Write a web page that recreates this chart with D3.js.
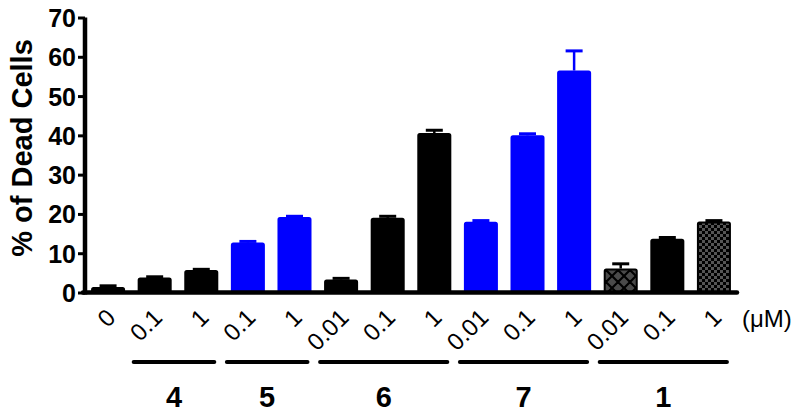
<!DOCTYPE html>
<html><head><meta charset="utf-8">
<script src="https://cdn.jsdelivr.net/npm/d3@7"></script>
<style>
html,body{margin:0;padding:0;background:#fff;}
svg{display:block;font-family:Arial,"Liberation Sans",Helvetica,sans-serif;}
</style></head>
<body>
<svg id="chart" width="800" height="418"></svg>
<script>
// ---- data ----
const concLabels = ["0","0.1","1","0.1","1","0.01","0.1","1","0.01","0.1","1","0.01","0.1","1"];
const barCompound = ["ctrl","4","4","5","5","6","6","6","7","7","7","1","1","1"];
const values = [1.4,3.8,5.7,12.7,19.2,3.3,19.0,40.6,18.0,40.0,56.5,6.1,13.7,18.1];
const errors = [0.3,0.2,0.2,0.3,0.2,0.3,0.4,0.7,0.3,0.4,5.0,1.2,0.3,0.2];
const groupLabels = ["4","5","6","7","1"];
const yTicks = [0,10,20,30,40,50,60,70];
const unitLabel = "(\u03BCM)";
const yTitle = "% of Dead Cells";

// ---- layout ----
const svg = d3.select("#chart");
const x0 = 85, x1 = 737, yBase = 292.5, yTop = 17.5;
const idx = d3.range(values.length);
const x = d3.scaleBand().domain(idx).range([x0, x1]).paddingInner(0.27).paddingOuter(0.13);
const y = d3.scaleLinear().domain([0, 70]).range([yBase, yTop]);
const bw = x.bandwidth();

// patterns
const defs = svg.append("defs");
const p1 = defs.append("pattern").attr("id","hatch").attr("patternUnits","userSpaceOnUse")
  .attr("width",12).attr("height",12);
p1.append("rect").attr("width",12).attr("height",12).attr("fill","#4a4a4a");
p1.append("path").attr("d","M0,0 L12,12 M12,0 L0,12 M-6,6 L6,18 M6,-6 L18,6 M-6,6 L6,-6 M6,18 L18,6")
  .attr("stroke","#000").attr("stroke-width",2.2);
const p2 = defs.append("pattern").attr("id","checker").attr("patternUnits","userSpaceOnUse")
  .attr("width",6).attr("height",6);
p2.append("rect").attr("width",6).attr("height",6).attr("fill","#000");
p2.append("rect").attr("width",3).attr("height",3).attr("fill","#555");
p2.append("rect").attr("x",3).attr("y",3).attr("width",3).attr("height",3).attr("fill","#555");

const colorOf = c => ({"5":"#0000ff","7":"#0000ff"}[c] || "#000");
function fillOf(i){
  if (barCompound[i]==="1" && concLabels[i]==="0.01") return "url(#hatch)";
  if (barCompound[i]==="1" && concLabels[i]==="1") return "url(#checker)";
  return colorOf(barCompound[i]);
}

// error bars
const eb = svg.append("g");
idx.forEach(i=>{
  const cx = x(i)+bw/2, c = colorOf(barCompound[i]);
  eb.append("line").attr("x1",cx).attr("x2",cx).attr("y1",y(values[i])).attr("y2",y(values[i]+errors[i]))
    .attr("stroke",c).attr("stroke-width",2.5);
  eb.append("line").attr("x1",cx-8.5).attr("x2",cx+8.5).attr("y1",y(values[i]+errors[i])).attr("y2",y(values[i]+errors[i]))
    .attr("stroke",c).attr("stroke-width",3);
});

// bars
svg.append("g").selectAll("rect").data(idx).join("rect")
  .attr("x",i=>x(i)+1).attr("width",bw-2)
  .attr("y",i=>y(values[i])+1).attr("height",i=>yBase-y(values[i])-1)
  .attr("fill",i=>fillOf(i))
  .attr("stroke",i=>colorOf(barCompound[i])).attr("stroke-width",2)
  .attr("rx",1.5);

// y axis
const ya = svg.append("g").attr("transform",`translate(${x0},0)`)
  .call(d3.axisLeft(y).tickValues(yTicks).tickSize(7).tickPadding(2));
ya.select(".domain").attr("stroke","#000").attr("stroke-width",4.5)
  .attr("d",`M0,${yTop}V${yBase+2}`);
ya.selectAll(".tick line").attr("stroke","#000").attr("stroke-width",3);
ya.selectAll(".tick text").attr("font-size",25).attr("font-weight","bold").attr("fill","#000")
  .attr("font-family","Arial,'Liberation Sans',sans-serif").attr("dy","0.36em");

// x axis baseline
svg.append("line").attr("x1",x0-2).attr("x2",x1).attr("y1",yBase).attr("y2",yBase)
  .attr("stroke","#000").attr("stroke-width",4.5).attr("stroke-linecap","round");

// concentration labels
svg.append("g").selectAll("text").data(idx).join("text")
  .attr("transform",i=>`translate(${x(i)+bw/2+9},319) rotate(-45)`)
  .attr("text-anchor","end").attr("font-size",24).attr("fill","#000")
  .text(i=>concLabels[i]);
svg.append("text").attr("x",742).attr("y",327).attr("font-size",24).attr("fill","#000").text(unitLabel);

// group lines and labels
const gl = svg.append("g");
groupLabels.forEach(g=>{
  const members = idx.filter(i=>barCompound[i]===g);
  const a = x(members[0]) - 4, b = x(members[members.length-1]) + bw - 4;
  gl.append("line").attr("x1",a).attr("x2",b).attr("y1",362).attr("y2",362)
    .attr("stroke","#000").attr("stroke-width",4).attr("stroke-linecap","round");
  gl.append("text").attr("x",(a+b)/2).attr("y",407).attr("text-anchor","middle")
    .attr("font-size",29).attr("font-weight","bold").attr("fill","#000").text(g);
});

// y title
svg.append("text").attr("transform","translate(32,148) rotate(-90)")
  .attr("text-anchor","middle").attr("font-size",29).attr("font-weight","bold").attr("fill","#000")
  .text(yTitle);
</script>
</body></html>
